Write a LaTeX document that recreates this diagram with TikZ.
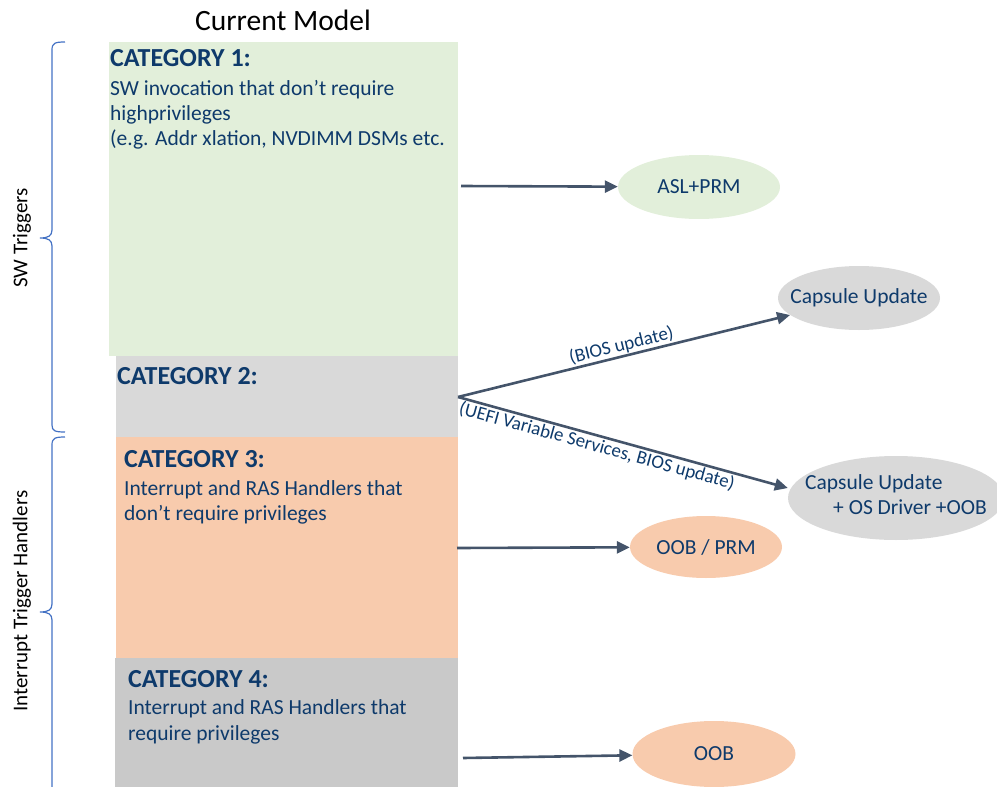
\documentclass[tikz,border=0pt]{standalone}
\usepackage{fontspec}
\setmainfont{Carlito}
\usetikzlibrary{arrows.meta,shapes.geometric}
\definecolor{txt}{HTML}{0E3A6B}
\definecolor{cone}{HTML}{E2EFDA}
\definecolor{ctwo}{HTML}{D9D9D9}
\definecolor{cthree}{HTML}{F8CBAD}
\definecolor{cfour}{HTML}{C9C9C9}
\definecolor{arr}{HTML}{44546A}
\definecolor{brc}{HTML}{4472C4}
\begin{document}
\begin{tikzpicture}[x=1pt,y=-1pt,
  cathead/.style={anchor=base west,inner sep=0pt,text=txt,font=\fontsize{26}{30}\selectfont\bfseries},
  catline/.style={anchor=base west,inner sep=0pt,text=txt,font=\fontsize{21.5}{25}\selectfont},
  oval/.style={ellipse,inner sep=0pt,label={[text=txt,font=\fontsize{21.5}{25}\selectfont]center:#1}},
  conn/.style={draw=arr,line width=2.6pt,-{Triangle[length=13pt,width=12pt]}},
  elab/.style={text=txt,font=\fontsize{19}{22}\selectfont,inner sep=1pt},
  bracel/.style={draw=brc,line width=1.2pt},
  sidelab/.style={rotate=90,font=\fontsize{21}{24}\selectfont,text=black}]
\useasboundingbox (0,0) rectangle (997,787);
% title
\node[font=\fontsize{29.5}{33}\selectfont] (title) at (283,20) {Current Model};
% boxes
\fill[cone] (109,42) rectangle (458,356);
\fill[ctwo] (116,356) rectangle (458,437);
\fill[cthree] (116,437) rectangle (458,658);
\fill[cfour] (115,658) rectangle (458,787);
\coordinate (c1) at (461,186);
\coordinate (c2) at (458,397);
\coordinate (c3) at (457,548);
\coordinate (c4) at (463,758);
% texts
\node[cathead] (h1) at (110,66) {CATEGORY 1:};
\node[catline] (t1a) at (110,95) {SW invocation that don’t require};
\node[catline] (t1b) at (110,120) {highprivileges};
\node[catline] (t1c) at (110,145) {(e.g. Addr xlation, NVDIMM DSMs etc.};
\node[cathead] (h2) at (117,384) {CATEGORY 2:};
\node[cathead] (h3) at (124,467) {CATEGORY 3:};
\node[catline] (t3a) at (124,495) {Interrupt and RAS Handlers that};
\node[catline] (t3b) at (124,520) {don’t require privileges};
\node[cathead] (h4) at (128,687) {CATEGORY 4:};
\node[catline] (t4a) at (128,714) {Interrupt and RAS Handlers that};
\node[catline] (t4b) at (128,740) {require privileges};
% ellipses
\node[oval=ASL+PRM,fill=cone,minimum width=162pt,minimum height=64pt] (asl) at (699,187) {};
\node[oval=Capsule Update,fill=ctwo,minimum width=162pt,minimum height=64pt] (cap1) at (859,298) {};
\node[ellipse,inner sep=0pt,fill=ctwo,minimum width=216pt,minimum height=84pt] (cap2) at (896,498) {};
\node[anchor=base west,inner sep=0pt,text=txt,font=\fontsize{21.5}{25}\selectfont] (cap2a) at (805,489) {Capsule Update};
\node[anchor=base west,inner sep=0pt,text=txt,font=\fontsize{21.5}{25}\selectfont] (cap2b) at (833,514) {+ OS Driver +OOB};
\node[oval=OOB / PRM,fill=cthree,minimum width=152pt,minimum height=62pt] (oobprm) at (706,547) {};
\node[oval=OOB,fill=cthree,minimum width=163pt,minimum height=66pt] (oob) at (714,754) {};
% connectors
\draw[conn] (c1) -- (asl);
\draw[conn] (c2) -- (cap1) node[elab,pos=0.5,above,sloped] {(BIOS update)};
\draw[conn] (c2) -- (cap2.west |- 0,488) node[elab,pos=0.43,below,sloped] {(UEFI Variable Services, BIOS update)};
\draw[conn] (c3) -- (oobprm);
\draw[conn] (c4) -- (oob);
% braces
\draw[bracel] (65,42) .. controls (55,42) and (52,43) .. (52,50) -- (52,230) .. controls (52,236) and (48,238) .. (40,238) .. controls (48,238) and (52,240) .. (52,246) -- (52,425) .. controls (52,431) and (55,432) .. (65,432);
\draw[bracel] (65,437) .. controls (55,437) and (52,438) .. (52,445) -- (52,604) .. controls (52,610) and (48,612) .. (40,612) .. controls (48,612) and (52,614) .. (52,620) -- (52,790);
\node[sidelab] (sw) at (22,238) {SW Triggers};
\node[sidelab] (it) at (22,601) {Interrupt Trigger Handlers};
\end{tikzpicture}
\end{document}
